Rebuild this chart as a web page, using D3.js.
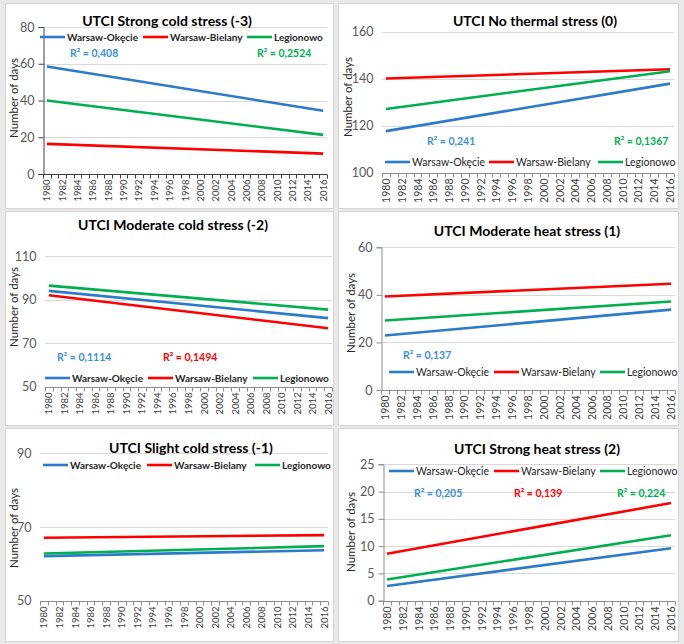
<!DOCTYPE html>
<html><head><meta charset="utf-8">
<script src="https://cdn.jsdelivr.net/npm/d3@7"></script>
<style>body{margin:0;background:#fff}svg{display:block}</style>
</head><body><svg id="c" width="684" height="644"></svg>
<script>
// ---------- DATA ----------
const years = [1980,1981,1982,1983,1984,1985,1986,1987,1988,1989,1990,1991,1992,1993,1994,1995,1996,1997,1998,1999,2000,2001,2002,2003,2004,2005,2006,2007,2008,2009,2010,2011,2012,2013,2014,2015,2016];
const yearLabels = [1980,1982,1984,1986,1988,1990,1992,1994,1996,1998,2000,2002,2004,2006,2008,2010,2012,2014,2016];
const seriesNames = ["Warsaw-Okęcie", "Warsaw-Bielany", "Legionowo"];
const trendYears = [1980, 2016];   // linear trend lines: value at first and last year

// UTCI Strong cold stress (-3)
const strongColdTicks = [0, 20, 40, 60, 80];
const strongColdOkecie = [58.5, 34.4];
const strongColdBielany = [16.4, 11.1];
const strongColdLegionowo = [40.0, 21.3];
const strongColdR2 = ["R² = 0,408", null, "R² = 0,2524"];

// UTCI No thermal stress (0)
const noThermalTicks = [100, 120, 140, 160];
const noThermalOkecie = [117.7, 137.9];
const noThermalBielany = [140.1, 144.0];
const noThermalLegionowo = [127.1, 143.2];
const noThermalR2 = ["R² = 0,241", null, "R² = 0,1367"];

// UTCI Moderate cold stress (-2)
const modColdTicks = [50, 70, 90, 110];
const modColdOkecie = [94.0, 81.5];
const modColdBielany = [92.0, 76.8];
const modColdLegionowo = [96.4, 85.4];
const modColdR2 = ["R² = 0,1114", "R² = 0,1494", null];

// UTCI Moderate heat stress (1)
const modHeatTicks = [0, 20, 40, 60];
const modHeatOkecie = [22.9, 33.8];
const modHeatBielany = [39.3, 44.7];
const modHeatLegionowo = [29.2, 37.2];
const modHeatR2 = ["R² = 0,137", null, null];

// UTCI Slight cold stress (-1)
const slightColdTicks = [50, 70, 90];
const slightColdOkecie = [62.1, 63.7];
const slightColdBielany = [67.1, 67.8];
const slightColdLegionowo = [62.8, 64.8];
const slightColdR2 = [null, null, null];

// UTCI Strong heat stress (2)
const strongHeatTicks = [0, 5, 10, 15, 20, 25];
const strongHeatOkecie = [2.7, 9.6];
const strongHeatBielany = [8.6, 17.9];
const strongHeatLegionowo = [3.9, 12.0];
const strongHeatR2 = ["R² = 0,205", "R² = 0,139", "R² = 0,224"];

// ---------- STYLE / LAYOUT ----------
const lineColors = ["#2b7bcc", "#ff0000", "#00b050"];
const r2Colors = ["#3b8fd8", "#ff0000", "#00b050"];
const FONT = "Lato, 'Open Sans', sans-serif";

const panels = [
  {title:"UTCI Strong cold stress (-3)", ticks:strongColdTicks, data:[strongColdOkecie,strongColdBielany,strongColdLegionowo], r2:strongColdR2,
   box:[5,3,333,208], plot:{l:43,r:327,t:27,b:174}, axisLine:true, titleX:167, titleY:26,
   legY:37, legX:[40,143,247], legBold:true, r2Y:53, r2X:[70,0,257], axTitle:[13,98], yearSize:9.5, axisColor:"#404040"},
  {title:"UTCI No thermal stress (0)", ticks:noThermalTicks, data:[noThermalOkecie,noThermalBielany,noThermalLegionowo], r2:noThermalR2,
   box:[338,3,678,208], plot:{l:382,r:674,t:31.7,b:172.7}, axisLine:false, titleX:535, titleY:26,
   legY:162, legX:[385,489,598], legBold:false, r2Y:141, r2X:[427,0,614], axTitle:[347,97], yearSize:10.5, axisColor:"#8c8c8c"},
  {title:"UTCI Moderate cold stress (-2)", ticks:modColdTicks, data:[modColdOkecie,modColdBielany,modColdLegionowo], r2:modColdR2,
   box:[5,211,333,425], plot:{l:45,r:332,t:256,b:386.7}, axisLine:false, titleX:173, titleY:230,
   legY:378, legX:[45,148,253], legBold:true, r2Y:357, r2X:[57,163,0], axTitle:[13,307], yearSize:9.5, axisColor:"#8c8c8c"},
  {title:"UTCI Moderate heat stress (1)", ticks:modHeatTicks, data:[modHeatOkecie,modHeatBielany,modHeatLegionowo], r2:modHeatR2,
   box:[338,211,678,425], plot:{l:381,r:675,t:247.3,b:390}, axisLine:true, titleX:527, titleY:236,
   legY:372, legX:[389,494,600], legBold:false, r2Y:355, r2X:[403,0,0], axTitle:[350,313], yearSize:10.5, axisColor:"#8c8c8c"},
  {title:"UTCI Slight cold stress (-1)", ticks:slightColdTicks, data:[slightColdOkecie,slightColdBielany,slightColdLegionowo], r2:slightColdR2,
   box:[5,428,333,641], plot:{l:40,r:328,t:453.3,b:600.7}, axisLine:false, titleX:191, titleY:453,
   legY:465, legX:[43,147,255], legBold:true, r2Y:0, r2X:[0,0,0], axTitle:[13,528], yearSize:9.5, axisColor:"#8c8c8c"},
  {title:"UTCI Strong heat stress (2)", ticks:strongHeatTicks, data:[strongHeatOkecie,strongHeatBielany,strongHeatLegionowo], r2:strongHeatR2,
   box:[338,428,678,641], plot:{l:383,r:675,t:464.3,b:600.7}, axisLine:true, titleX:537, titleY:454,
   legY:471, legX:[389,494,600], legBold:false, r2Y:493, r2X:[414,514,617], axTitle:[350,532], yearSize:10.5, axisColor:"#8c8c8c"}
];

// ---------- DRAW ----------
const svg = d3.select("#c");
svg.append("rect").attr("width",684).attr("height",644).attr("fill","#e9e9e9");

panels.forEach(p => {
  const g = svg.append("g");
  const [x0,y0,x1,y1] = p.box;
  g.append("rect").attr("x",x0+0.5).attr("y",y0+0.5).attr("width",x1-x0).attr("height",y1-y0)
    .attr("fill","#fff").attr("stroke","#d4d4d4");

  const x = d3.scaleBand().domain(years).range([p.plot.l, p.plot.r]).padding(0);
  const y = d3.scaleLinear().domain(d3.extent(p.ticks)).range([p.plot.b, p.plot.t]);
  const cx = v => x(v) + x.bandwidth()/2;

  // gridlines
  g.append("g").selectAll("line").data(p.ticks.slice(1)).join("line")
    .attr("x1",p.plot.l).attr("x2",p.plot.r).attr("y1",d=>Math.round(y(d))+0.5).attr("y2",d=>Math.round(y(d))+0.5)
    .attr("stroke","#d9d9d9").attr("stroke-width",1);

  // y axis
  const yAxis = d3.axisLeft(y).tickValues(p.ticks).tickSize(p.axisLine ? 5 : 0).tickPadding(p.axisLine ? 4 : 9);
  const ya = g.append("g").attr("transform",`translate(${p.plot.l+0.5},0)`).call(yAxis);
  ya.select(".domain").attr("stroke", p.axisLine ? p.axisColor : "none");
  ya.selectAll(".tick line").attr("stroke",p.axisColor);
  ya.selectAll("text").attr("font-family",FONT).attr("font-size",12.5).attr("fill","#595959");

  // x axis (category)
  const xb = Math.round(p.plot.b)+0.5;
  g.append("line").attr("x1",p.plot.l).attr("x2",p.plot.r).attr("y1",xb).attr("y2",xb).attr("stroke",p.axisColor);
  const bounds = years.map(v => x(v)).concat([p.plot.r]);
  g.append("g").selectAll("line").data(bounds).join("line")
    .attr("x1",d=>Math.round(d)+0.5).attr("x2",d=>Math.round(d)+0.5).attr("y1",xb).attr("y2",xb+4)
    .attr("stroke",p.axisColor);
  g.append("g").selectAll("text").data(yearLabels).join("text")
    .attr("transform",d=>`translate(${cx(d)},${xb+5}) rotate(-90)`)
    .attr("text-anchor","end").attr("dominant-baseline","central")
    .attr("font-family",FONT).attr("font-size",p.yearSize).attr("fill","#404040").text(d=>d);

  // axis title
  g.append("text").attr("transform",`translate(${p.axTitle[0]},${p.axTitle[1]}) rotate(-90)`)
    .attr("text-anchor","middle").attr("dominant-baseline","central")
    .attr("font-family",FONT).attr("font-size",11.5).attr("fill","#262626").text("Number of days");

  // trend lines
  const line = d3.line().x(d=>cx(d[0])).y(d=>y(d[1]));
  p.data.forEach((vals,i) => {
    g.append("path").datum(trendYears.map((yr,k)=>[yr, vals[k]]))
      .attr("d",line).attr("fill","none").attr("stroke",lineColors[i]).attr("stroke-width",2.6);
  });

  // title
  g.append("text").attr("x",p.titleX).attr("y",p.titleY).attr("text-anchor","middle")
    .attr("font-family",FONT).attr("font-weight","bold").attr("font-size",14).attr("fill","#000").text(p.title);

  // legend
  seriesNames.forEach((nm,i) => {
    const lx = p.legX[i];
    g.append("line").attr("x1",lx).attr("x2",lx+25).attr("y1",p.legY).attr("y2",p.legY)
      .attr("stroke",lineColors[i]).attr("stroke-width",2.6);
    g.append("text").attr("x",lx+27).attr("y",p.legY).attr("dominant-baseline","central")
      .attr("font-family",FONT).attr("font-weight",p.legBold?"bold":"normal").attr("font-size",p.legBold?10:10.5)
      .attr("fill","#262626").text(nm);
  });

  // R² labels
  p.r2.forEach((t,i) => {
    if (!t) return;
    g.append("text").attr("x",p.r2X[i]).attr("y",p.r2Y).attr("dominant-baseline","central")
      .attr("font-family",FONT).attr("font-weight","bold").attr("font-size",10.5).attr("fill",r2Colors[i]).text(t);
  });
});
</script></body></html>
